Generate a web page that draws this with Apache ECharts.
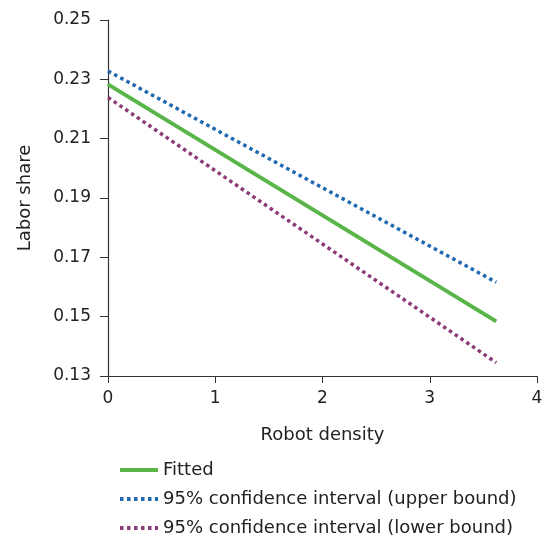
<!DOCTYPE html>
<html><head><meta charset="utf-8">
<script src="https://cdn.jsdelivr.net/npm/echarts@6/dist/echarts.min.js"></script>
<style>html,body{margin:0;padding:0;background:#fff}#c{width:551px;height:542px}</style>
</head><body><div id="c"></div>
<script>
const xValues = [0, 3.62];
const fitted = [0.2283, 0.1484];
const upperBound = [0.2328, 0.1616];
const lowerBound = [0.2239, 0.1345];
const seriesNames = ['Fitted', '95% confidence interval (upper bound)', '95% confidence interval (lower bound)'];
const xTitle = 'Robot density';
const yTitle = 'Labor share';

const font = '"DejaVu Sans", sans-serif';
const pair = (ys) => xValues.map((x, i) => [x, ys[i]]);
const chart = echarts.init(document.getElementById('c'));
chart.setOption({
  animation: false,
  textStyle: { fontFamily: font },
  grid: { left: 108, right: 14, top: 20, bottom: 166 },
  xAxis: {
    type: 'value', min: 0, max: 4, interval: 1,
    name: xTitle, nameLocation: 'middle', nameGap: 50,
    nameTextStyle: { fontSize: 18, color: '#222', fontFamily: font },
    axisLine: { show: true, lineStyle: { color: '#333', width: 1.2 } },
    axisTick: { show: true, length: 7, lineStyle: { color: '#333' } },
    axisLabel: { fontSize: 17, color: '#222', margin: 14, fontFamily: font },
    splitLine: { show: false }
  },
  yAxis: {
    type: 'value', min: 0.13, max: 0.25, interval: 0.02,
    name: yTitle, nameLocation: 'middle', nameGap: 74, nameRotate: 90,
    nameTextStyle: { fontSize: 18, color: '#222', fontFamily: font },
    axisLine: { show: true, lineStyle: { color: '#333', width: 1.2 } },
    axisTick: { show: true, length: 8, lineStyle: { color: '#333' } },
    axisLabel: { fontSize: 17, color: '#222', margin: 17, fontFamily: font, formatter: v => v.toFixed(2) },
    splitLine: { show: false }
  },
  legend: {
    orient: 'vertical', left: 113, top: 456, itemGap: 11,
    itemWidth: 38, itemHeight: 12,
    itemStyle: { opacity: 0 },
    lineStyle: { width: 4 },
    textStyle: { fontSize: 18, color: '#222', fontFamily: font },
    data: seriesNames
  },
  series: [
    { name: seriesNames[0], type: 'line', data: pair(fitted), symbol: 'none', color: '#58b548',
      lineStyle: { width: 4, color: '#58b548' } },
    { name: seriesNames[1], type: 'line', data: pair(upperBound), symbol: 'none', color: '#1f69b0',
      lineStyle: { width: 3.5, color: '#1f69b0', type: [3.5, 3.5] } },
    { name: seriesNames[2], type: 'line', data: pair(lowerBound), symbol: 'none', color: '#8c3a78',
      lineStyle: { width: 3.5, color: '#8c3a78', type: [3.5, 3.5] } }
  ]
});
</script></body></html>
